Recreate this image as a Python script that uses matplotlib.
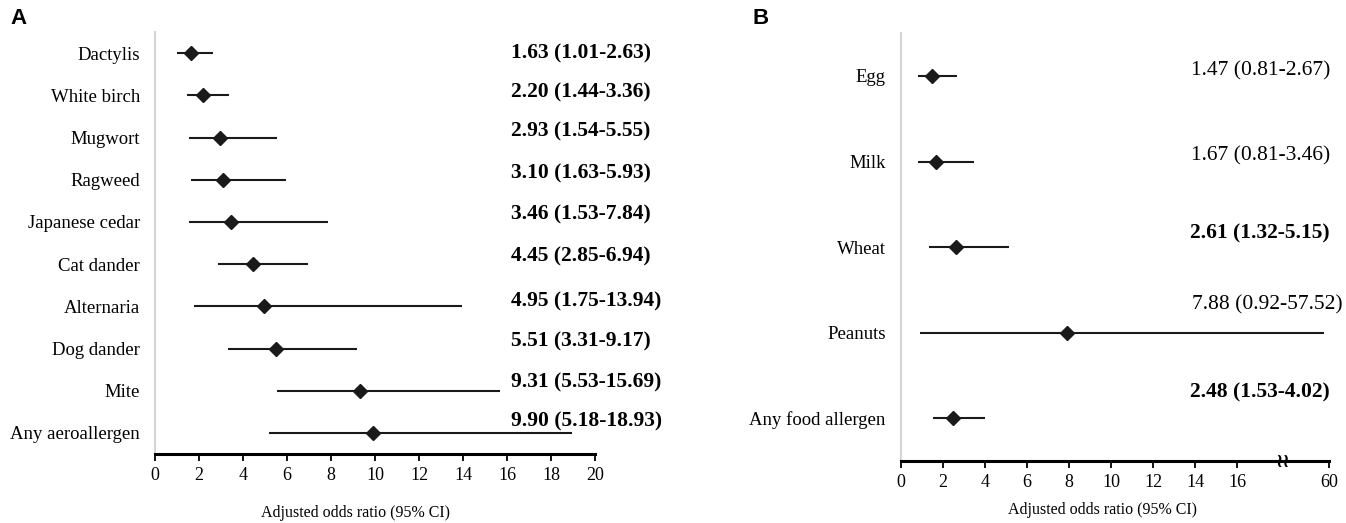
import numpy as np
import matplotlib
matplotlib.use("Agg")
import matplotlib.pyplot as plt

plt.rcParams['font.family'] = ['Liberation Serif', 'DejaVu Serif']

# panel A : aeroallergens
aero_names = ['Dactylis', 'White birch', 'Mugwort', 'Ragweed', 'Japanese cedar',
              'Cat dander', 'Alternaria', 'Dog dander', 'Mite', 'Any aeroallergen']
aero_or = [1.63, 2.20, 2.93, 3.10, 3.46, 4.45, 4.95, 5.51, 9.31, 9.90]
aero_lo = [1.01, 1.44, 1.54, 1.63, 1.53, 2.85, 1.75, 3.31, 5.53, 5.18]
aero_hi = [2.63, 3.36, 5.55, 5.93, 7.84, 6.94, 13.94, 9.17, 15.69, 18.93]
aero_bold = [True] * 10

# panel B : food allergens
food_names = ['Egg', 'Milk', 'Wheat', 'Peanuts', 'Any food allergen']
food_or = [1.47, 1.67, 2.61, 7.88, 2.48]
food_lo = [0.81, 0.81, 1.32, 0.92, 1.53]
food_hi = [2.67, 3.46, 5.15, 57.52, 4.02]
food_bold = [False, False, True, False, True]

a_ticks = np.arange(0, 21, 2)
b_ticks = [0, 2, 4, 6, 8, 10, 12, 14, 16, 60]

# broken x axis for panel B: linear to 16, compressed after
K = 4.38 / 44.0
def fwd(x):
    x = np.asarray(x, dtype=float)
    return np.where(x <= 16, x, 16 + (x - 16) * K)
def inv(x):
    x = np.asarray(x, dtype=float)
    return np.where(x <= 16, x, 16 + (x - 16) / K)

def label(or_, lo, hi):
    return f'{or_:.2f} ({lo:.2f}-{hi:.2f})'

fig = plt.figure(figsize=(13.46, 5.23), dpi=100)
axA = fig.add_axes([0.1152, 0.1319, 0.3269, 0.8069])
axB = fig.add_axes([0.6694, 0.1185, 0.3180, 0.8180])

def style(ax, pad):
    ax.spines['top'].set_visible(False)
    ax.spines['right'].set_visible(False)
    ax.spines['left'].set_color('#d4d4d4')
    ax.spines['left'].set_linewidth(1.5)
    ax.spines['bottom'].set_linewidth(2.2)
    ax.tick_params(axis='y', length=0, pad=pad, labelsize=13.5)
    ax.tick_params(axis='x', length=5, width=1.3, direction='out', labelsize=13, pad=4)

# ---- A
ya = np.arange(len(aero_names))
axA.hlines(ya, aero_lo, aero_hi, color='#1a1a1a', lw=1.5)
axA.plot(aero_or, ya, 'D', color='#1a1a1a', ms=7, ls='none')
nudge_a = [0, -0.07, -0.14, -0.14, -0.17, -0.19, -0.12, -0.17, -0.19, -0.28]
for i in range(len(aero_names)):
    axA.text(16.2, ya[i] + nudge_a[i], label(aero_or[i], aero_lo[i], aero_hi[i]),
             ha='left', va='center', fontsize=15.5,
             fontweight='bold' if aero_bold[i] else 'normal', clip_on=False)
axA.set_yticks(ya)
axA.set_yticklabels(aero_names)
axA.set_ylim(len(aero_names) - 0.5, -0.5)
axA.set_xlim(0, 20)
axA.set_xticks(a_ticks)
style(axA, 11)
axA.set_xlabel('Adjusted odds ratio (95% CI)', fontsize=11.5)
axA.xaxis.set_label_coords(0.455, -0.12)

# ---- B
yb = np.arange(len(food_names))
axB.set_xscale('function', functions=(fwd, inv))
axB.hlines(yb, food_lo, food_hi, color='#1a1a1a', lw=1.5)
axB.plot(food_or, yb, 'D', color='#1a1a1a', ms=7, ls='none')
nudge_b = [-0.06, -0.07, -0.16, -0.32, -0.3]
for i in range(len(food_names)):
    axB.text(66.4 if food_hi[i] > 50 else 60.4, yb[i] + nudge_b[i],
             label(food_or[i], food_lo[i], food_hi[i]),
             ha='right', va='center', fontsize=15.5,
             fontweight='bold' if food_bold[i] else 'normal', clip_on=False)
axB.set_yticks(yb)
axB.set_yticklabels(food_names)
axB.set_ylim(len(food_names) - 0.5, -0.5)
axB.set_xlim(0, 60)
axB.set_xticks(b_ticks)
axB.set_xticklabels([str(t) for t in b_ticks])
axB.xaxis.set_minor_locator(matplotlib.ticker.NullLocator())
style(axB, 11)
axB.text(38, len(food_names) - 0.5, '≀≀', ha='center', va='center',
         fontsize=14, fontweight='bold', family='DejaVu Sans', clip_on=False)
axB.set_xlabel('Adjusted odds ratio (95% CI)', fontsize=11.5)
axB.xaxis.set_label_coords(0.47, -0.095)

fig.text(0.0075, 0.955, 'A', family='Liberation Sans', fontweight='bold', fontsize=16)
fig.text(0.559, 0.955, 'B', family='Liberation Sans', fontweight='bold', fontsize=16)

fig.savefig('out.png', dpi=100, facecolor='white')
